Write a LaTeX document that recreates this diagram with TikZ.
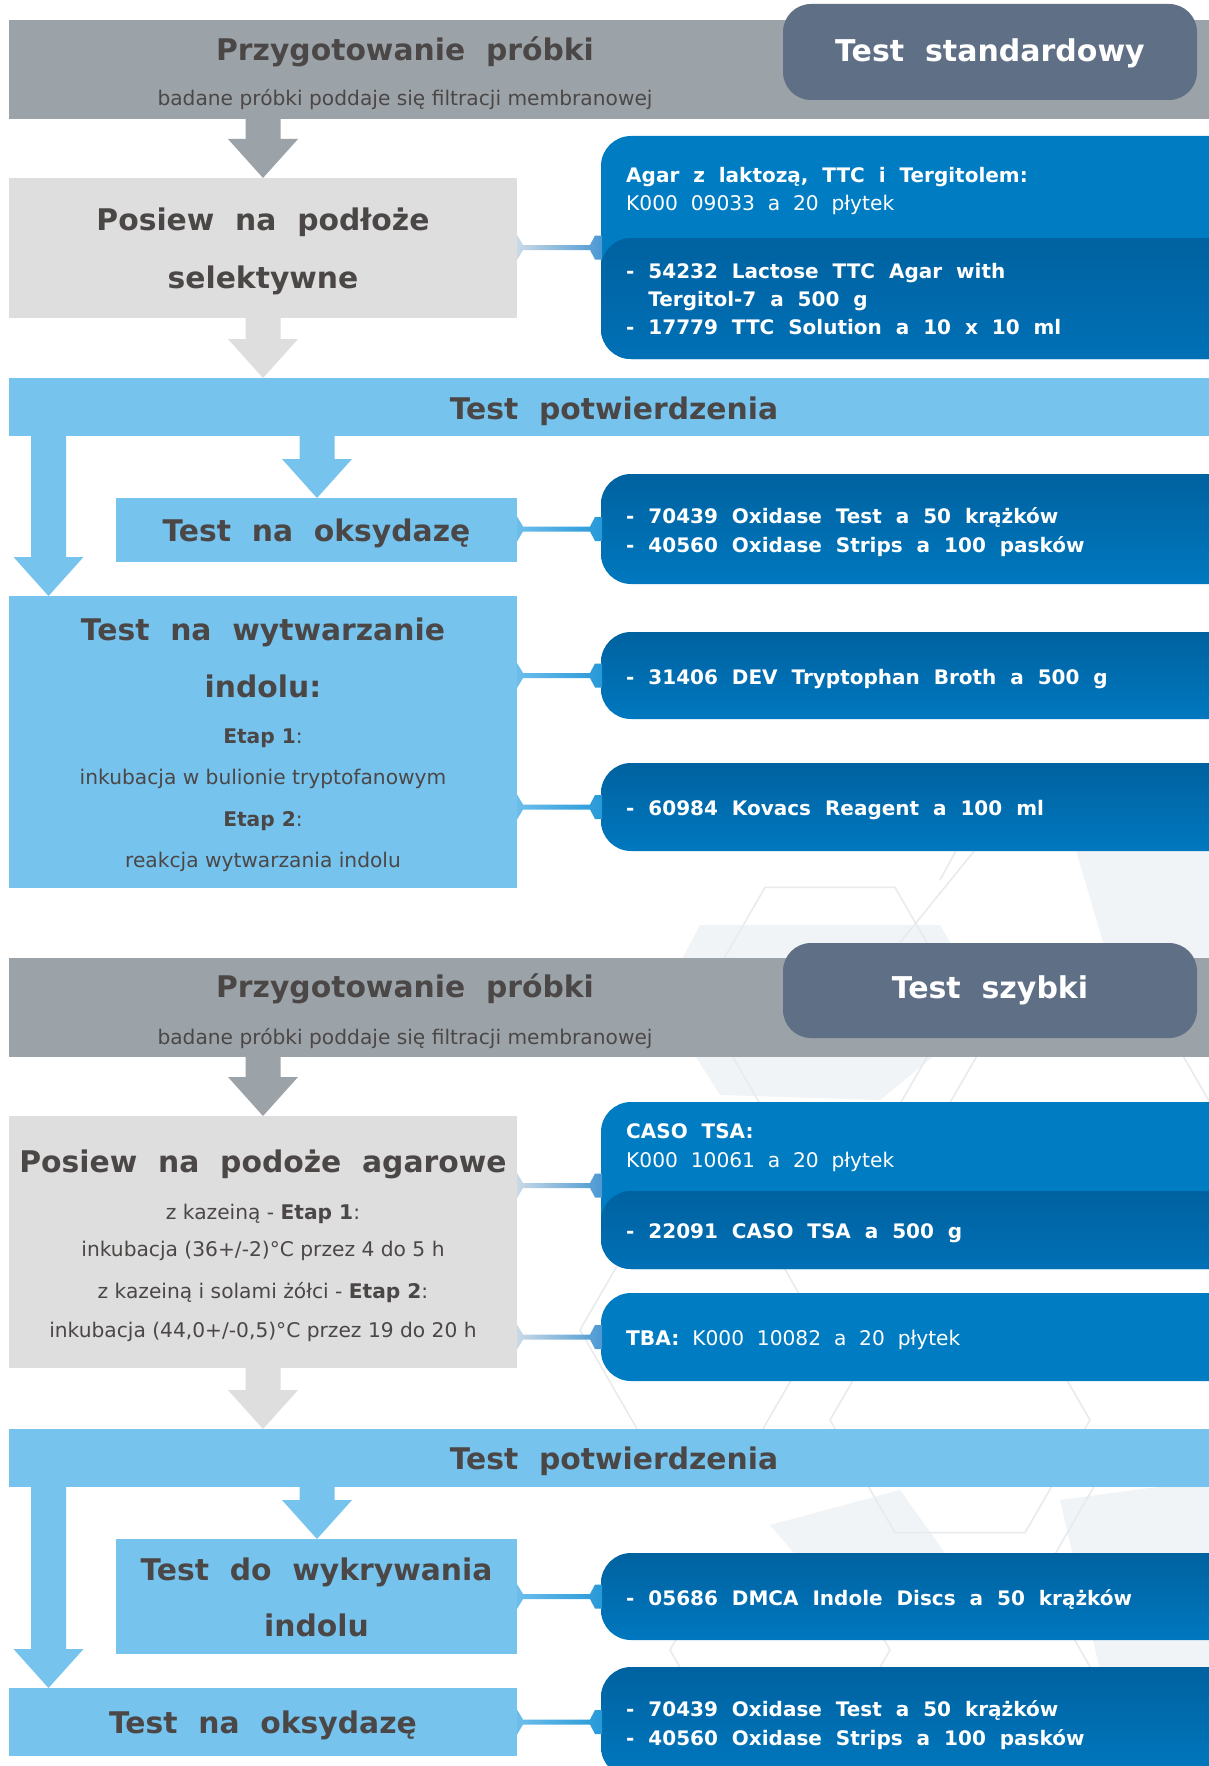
\documentclass[tikz,border=0pt]{standalone}
\usepackage{fontspec}
\setmainfont{DejaVu Sans}
\newfontfamily\wf{DejaVu Sans}[WordSpace=2]
\usetikzlibrary{calc}
\definecolor{bandgray}{HTML}{9BA3A9}
\definecolor{slate}{HTML}{5F6F86}
\definecolor{lgray}{HTML}{DEDEDE}
\definecolor{lblue}{HTML}{76C3EE}
\definecolor{txt}{HTML}{4B4746}
\definecolor{bluetop}{HTML}{007CC3}
\definecolor{bluedk}{HTML}{0062A0}
\definecolor{bluelt}{HTML}{0078BF}
\definecolor{bluemid}{HTML}{0070B6}
\definecolor{bgline}{HTML}{E8EBEE}
\definecolor{bgfill}{HTML}{F1F4F6}
\definecolor{cgl}{HTML}{C9D9E6}
\definecolor{cgr}{HTML}{4A98D3}
\definecolor{cbl}{HTML}{6CBDEB}
\definecolor{cbr}{HTML}{2799D8}
\tikzset{
  box/.style={inner sep=0pt, outer sep=0pt, anchor=north west, draw=none},
  bluebox/.style={box, rounded corners=30pt, top color=bluedk, bottom color=bluelt},
  hd/.style={inner sep=0pt, text=txt, font=\wf\bfseries\fontsize{29.8}{35}\selectfont, text height=21.7pt, text depth=0pt},
  ttl/.style={inner sep=0pt, text=white, font=\wf\bfseries\fontsize{30}{35}\selectfont, text height=21.9pt, text depth=0pt},
  sb/.style={inner sep=0pt, text=txt, font=\fontsize{20.2}{24}\selectfont, text height=14.7pt, text depth=0pt},
  bl/.style={inner sep=0pt, anchor=west, text=white, font=\wf\bfseries\fontsize{20}{24}\selectfont, text height=14.6pt, text depth=0pt},
  rg/.style={inner sep=0pt, anchor=west, text=white, font=\wf\fontsize{20.2}{24}\selectfont, text height=14.7pt, text depth=0pt},
  bgl/.style={draw=bgline, line width=1.6pt},
}
\newcommand\blockarr[4]{%
  \fill[#1] let \p1=(#3), \p2=(#4) in
    (#2pt-17.5pt,\y1) -- (#2pt+17.5pt,\y1) -- (#2pt+17.5pt,\y2+39pt) -- (#2pt+35pt,\y2+39pt)
    -- (#2pt,\y2) -- (#2pt-35pt,\y2+39pt) -- (#2pt-17.5pt,\y2+39pt) -- cycle;}
\newcommand\conn[4]{%
  \shade[left color=#3, right color=#4] let \p1=(#1.east), \p2=(#2.west) in
    (\x1,\y2+12.5pt) -- (\x1+6pt,\y2+2.5pt) -- (\x2-11pt,\y2+2.5pt) -- (\x2-6pt,\y2+12pt)
    -- (\x2+1pt,\y2+12pt) -- (\x2+1pt,\y2-12pt) -- (\x2-6pt,\y2-12pt) -- (\x2-11pt,\y2-2.5pt)
    -- (\x1+6pt,\y2-2.5pt) -- (\x1,\y2-12.5pt) -- cycle;}
\newcommand\hexo[3]{\draw[bgl, shift={(#1,#2)}] (0:#3) -- (60:#3) -- (120:#3) -- (180:#3) -- (240:#3) -- (300:#3) -- cycle;}
\begin{document}
\begin{tikzpicture}[x=1pt,y=-1pt]
\useasboundingbox (0,0) rectangle (1209,1766);
\clip (0,0) rectangle (1209,1766);
\fill[white] (0,0) rectangle (1209,1766);
% faint background pattern
\fill[bgfill] (700,925) -- (940,925) -- (990,1010) -- (880,1100) -- (720,1095) -- (660,1000) -- cycle;
\fill[bgfill] (1070,830) -- (1209,815) -- (1209,990) -- (1120,1000) -- cycle;
\fill[bgfill] (1060,1500) -- (1209,1480) -- (1209,1690) -- (1100,1670) -- cycle;
\fill[bgfill] (770,1525) -- (900,1490) -- (950,1560) -- (830,1595) -- cycle;
\hexo{830}{1000}{130}
\hexo{1080}{1120}{140}
\hexo{700}{1330}{120}
\hexo{960}{1420}{130}
\hexo{1160}{1580}{120}
\hexo{780}{1650}{110}
\draw[bgl] (975,850) -- (898,945);
\draw[bgl] (1000,770) -- (940,880);
% top section
\node[box, fill=bandgray, minimum width=1200pt, minimum height=99pt] (bandA) at (9,20) {};
\node[box, fill=slate, rounded corners=28pt, minimum width=414pt, minimum height=96pt] (stdbox) at (783,4) {};
\node[box, fill=lgray, minimum width=508pt, minimum height=140pt] (posA) at (9,178) {};
\node[box, fill=bluetop, rounded corners=30pt, minimum width=639pt, minimum height=223pt] (blueA) at (601,136) {};
\node[box, rounded corners=30pt, top color=bluedk, bottom color=bluemid, minimum width=639pt, minimum height=121pt] (blueAin) at (601,238) {};
\node[box, fill=lblue, minimum width=1200pt, minimum height=58pt] (potA) at (9,378) {};
\node[box, fill=lblue, minimum width=401pt, minimum height=64pt] (oksA) at (116,498) {};
\node[bluebox, minimum width=639pt, minimum height=110pt] (bOksA) at (601,474) {};
\node[box, fill=lblue, minimum width=508pt, minimum height=292pt] (wytw) at (9,596) {};
\node[bluebox, minimum width=639pt, minimum height=87pt] (bDev) at (601,632) {};
\node[bluebox, minimum width=639pt, minimum height=88pt] (bKov) at (601,763) {};
% bottom section
\node[box, fill=bandgray, minimum width=1200pt, minimum height=99pt] (bandB) at (9,958) {};
\node[box, fill=slate, rounded corners=28pt, minimum width=414pt, minimum height=95pt] (szybki) at (783,943) {};
\node[box, fill=lgray, minimum width=508pt, minimum height=252pt] (posB) at (9,1116) {};
\node[box, fill=bluetop, rounded corners=30pt, minimum width=639pt, minimum height=167pt] (bCaso) at (601,1102) {};
\node[box, rounded corners=30pt, top color=bluedk, bottom color=bluemid, minimum width=639pt, minimum height=78pt] (bCasoIn) at (601,1191) {};
\node[box, fill=bluetop, rounded corners=30pt, minimum width=639pt, minimum height=88pt] (bTba) at (601,1293) {};
\node[box, fill=lblue, minimum width=1200pt, minimum height=58pt] (potB) at (9,1429) {};
\node[box, fill=lblue, minimum width=401pt, minimum height=115pt] (indol) at (116,1539) {};
\node[bluebox, minimum width=639pt, minimum height=87pt] (bDmca) at (601,1553) {};
\node[box, fill=lblue, minimum width=508pt, minimum height=68pt] (oksB) at (9,1688) {};
\node[bluebox, minimum width=639pt, minimum height=110pt] (bOksB) at (601,1667) {};
% block arrows
\blockarr{bandgray}{263}{bandA.south}{posA.north}
\blockarr{lgray}{263}{posA.south}{potA.north}
\blockarr{lblue}{48.5}{potA.south}{wytw.north}
\blockarr{lblue}{317}{potA.south}{oksA.north}
\blockarr{bandgray}{263}{bandB.south}{posB.north}
\blockarr{lgray}{263}{posB.south}{potB.north}
\blockarr{lblue}{48.5}{potB.south}{oksB.north}
\blockarr{lblue}{317}{potB.south}{indol.north}
% connectors
\conn{posA}{blueA}{cgl}{cgr}
\conn{oksA}{bOksA}{cbl}{cbr}
\conn{wytw}{bDev}{cbl}{cbr}
\conn{wytw}{bKov}{cbl}{cbr}
\conn{posB}{bCaso}{cgl}{cgr}
\conn{posB}{bTba}{cgl}{cgr}
\conn{indol}{bDmca}{cbl}{cbr}
\conn{oksB}{bOksB}{cbl}{cbr}
% texts top
\node[hd] (tA1) at (405,50) {Przygotowanie próbki};
\node[sb] (tA2) at (405,98) {badane próbki poddaje się filtracji membranowej};
\node[ttl] (tA3) at (990,51) {Test standardowy};
\node[hd] (tA4) at (263,220) {Posiew na podłoże};
\node[hd] (tA5) at (263,278) {selektywne};
\node[bl] (tA6) at (626,175) {Agar z laktozą, TTC i Tergitolem:};
\node[rg] (tA7) at (626,203) {K000 09033 a 20 płytek};
\node[bl] (tA8) at (626,271) {- 54232 Lactose TTC Agar with};
\node[bl] (tA9) at (626,299) {\phantom{-} Tergitol-7 a 500 g};
\node[bl] (tA10) at (626,327) {- 17779 TTC Solution a 10 x 10 ml};
\node[hd] (tB1) at (614,408.5) {Test potwierdzenia};
\node[hd] (tB2) at (316.5,530.5) {Test na oksydazę};
\node[bl] (tB3) at (626,516) {- 70439 Oxidase Test a 50 krążków};
\node[bl] (tB4) at (626,545) {- 40560 Oxidase Strips a 100 pasków};
\node[hd] (tB5) at (263,630) {Test na wytwarzanie};
\node[hd] (tB6) at (263,687) {indolu:};
\node[sb] (tB7) at (263,736) {\textbf{Etap 1}:};
\node[sb] (tB8) at (263,777) {inkubacja w bulionie tryptofanowym};
\node[sb] (tB9) at (263,819) {\textbf{Etap 2}:};
\node[sb] (tB10) at (263,860) {reakcja wytwarzania indolu};
\node[bl] (tB11) at (626,677) {- 31406 DEV Tryptophan Broth a 500 g};
\node[bl] (tB12) at (626,808) {- 60984 Kovacs Reagent a 100 ml};
% texts bottom
\node[hd] (tC1) at (405,987) {Przygotowanie próbki};
\node[sb] (tC2) at (405,1037) {badane próbki poddaje się filtracji membranowej};
\node[ttl] (tC3) at (990,988) {Test szybki};
\node[hd] (tC4) at (263,1162) {Posiew na podoże agarowe};
\node[sb] (tC5) at (263,1212) {z kazeiną - \textbf{Etap 1}:};
\node[sb] (tC6) at (263,1249) {inkubacja (36+/-2)°C przez 4 do 5 h};
\node[sb] (tC7) at (263,1291) {z kazeiną i solami żółci - \textbf{Etap 2}:};
\node[sb] (tC8) at (263,1330) {inkubacja (44,0+/-0,5)°C przez 19 do 20 h};
\node[bl] (tC9) at (626,1131) {CASO TSA:};
\node[rg] (tC10) at (626,1160) {K000 10061 a 20 płytek};
\node[bl] (tC11) at (626,1231) {- 22091 CASO TSA a 500 g};
\node[rg] (tC12) at (626,1338) {{\bfseries TBA:} K000 10082 a 20 płytek};
\node[hd] (tD1) at (614,1459) {Test potwierdzenia};
\node[hd] (tD2) at (316.5,1570) {Test do wykrywania};
\node[hd] (tD3) at (316.5,1626) {indolu};
\node[hd] (tD4) at (263,1723) {Test na oksydazę};
\node[bl] (tD5) at (626,1598) {- 05686 DMCA Indole Discs a 50 krążków};
\node[bl] (tD6) at (626,1709) {- 70439 Oxidase Test a 50 krążków};
\node[bl] (tD7) at (626,1738) {- 40560 Oxidase Strips a 100 pasków};
\end{tikzpicture}
\end{document}
